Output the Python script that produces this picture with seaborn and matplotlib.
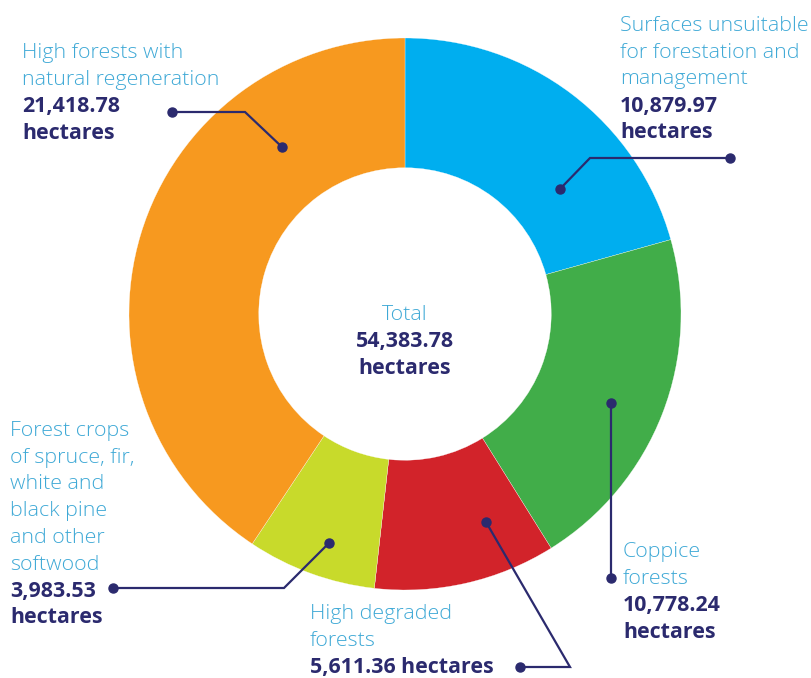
import matplotlib
matplotlib.use("Agg")
import matplotlib.pyplot as plt
import seaborn as sns

# ---- data ----
categories = [
    "Surfaces unsuitable for forestation and management",
    "Coppice forests",
    "High degraded forests",
    "Forest crops of spruce, fir, white and black pine and other softwood",
    "High forests with natural regeneration",
]
values = [10879.97, 10778.24, 5611.36, 3983.53, 21418.78]
value_labels = ["10,879.97", "10,778.24", "5,611.36", "3,983.53", "21,418.78"]
total_label = "54,383.78"
colors = ["#00AEEF", "#41AD49", "#D2232A", "#C8DA2B", "#F7991F"]

sns.set_theme(style="white")
plt.rcParams["font.family"] = ["Open Sans", "DejaVu Sans"]

W, H = 812, 678
fig = plt.figure(figsize=(W / 100, H / 100), dpi=100)
ax = fig.add_axes([0, 0, 1, 1])
ax.set_xlim(0, W)
ax.set_ylim(0, H)
ax.axis("off")

def Y(y):
    return H - y

cx, cy, R = 405, 314, 276
ax.pie(values, colors=colors, startangle=90, counterclock=False,
       center=(cx, Y(cy)), radius=R,
       wedgeprops=dict(width=R * 0.47, edgecolor="white", linewidth=0.2))
ax.set_xlim(0, W)
ax.set_ylim(0, H)
ax.set_aspect("equal")

light = "#3FA9D6"
dark = "#2B2A6E"
fs = 15.4

def block(x, y0, lines, ha="left", lh=26.7):
    for i, (txt, bold) in enumerate(lines):
        ax.text(x, Y(y0 + i * lh), txt, ha=ha, va="center",
                fontsize=fs, color=dark if bold else light,
                fontweight="bold" if bold else "light")

# Labels
block(22, 53, [("High forests with", False), ("natural regeneration", False),
               (value_labels[4], True), ("hectares", True)])
block(620, 26, [("Surfaces unsuitable", False), ("for forestation and", False),
                ("management", False), (value_labels[0], True), ("hectares", True)])
block(10, 431, [("Forest crops", False), ("of spruce, fir,", False),
                ("white and", False), ("black pine", False), ("and other", False),
                ("softwood", False), (value_labels[3], True), ("hectares", True)])
block(310, 614, [("High degraded", False), ("forests", False),
                 (value_labels[2] + " hectares", True)])
block(623, 552, [("Coppice", False), ("forests", False),
                 (value_labels[1], True), ("hectares", True)])
block(405, 315, [("Total", False), (total_label, True), ("hectares", True)], ha="center")

# Leader lines
leaders = [
    [(172, 112), (245, 112), (282, 147)],
    [(730, 158), (590, 158), (560, 189)],
    [(611, 403), (611, 578)],
    [(486, 522), (570, 667), (520, 667)],
    [(329, 543), (284, 588), (113, 588)],
]
for pts in leaders:
    xs = [p[0] for p in pts]
    ys = [Y(p[1]) for p in pts]
    ax.plot(xs, ys, color=dark, linewidth=1.6, solid_joinstyle="miter")
    ax.plot([xs[0], xs[-1]], [ys[0], ys[-1]], "o", color=dark, markersize=6.5)

fig.savefig("out.png", dpi=100)
